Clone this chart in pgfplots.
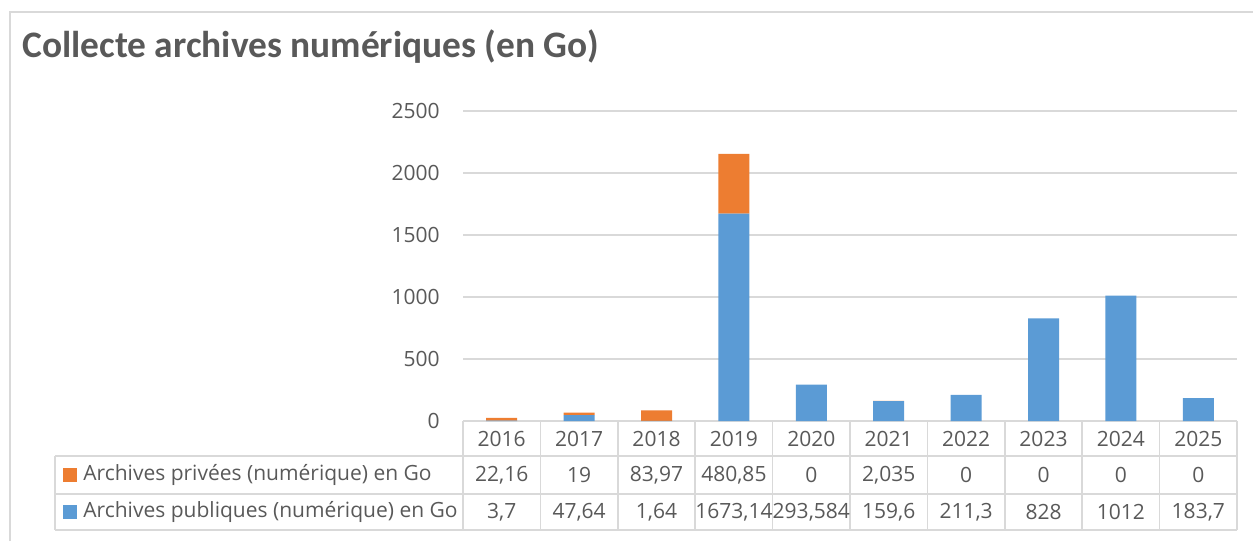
\documentclass[border=0pt]{standalone}
\usepackage{fontspec}
\setmainfont{Open Sans}
\newfontfamily\titlefont{Carlito}
\usepackage{pgfplots}
\pgfplotsset{compat=1.18}
\definecolor{txtgray}{HTML}{595959}
\definecolor{linegray}{HTML}{D9D9D9}
\definecolor{xlorange}{HTML}{ED7D31}
\definecolor{xlblue}{HTML}{5B9BD5}
\newcommand{\tabfont}{\fontsize{10.5}{12}\selectfont}

\begin{document}
\begin{tikzpicture}
% pixel frame: 1 px = 0.5pt, y downwards
\begin{scope}[x=0.5pt,y=-0.5pt]
\path[use as bounding box] (0,0) rectangle (1253,541);
\draw[linegray,line width=0.75pt] (10,541) -- (10,12) -- (1253,12);
\node[anchor=base west,inner sep=0pt,text=txtgray,font=\titlefont\bfseries\fontsize{18.7}{22}\selectfont]
  at (22,57) {Collecte archives numériques (en Go)};
\end{scope}

\begin{axis}[
  at={(231.5pt,-210.5pt)}, anchor=south west,
  scale only axis,
  width=387pt, height=155pt,
  xmin=-0.5, xmax=9.5,
  ymin=0, ymax=2500,
  ybar stacked,
  bar width=15.5pt,
  axis line style={draw=none},
  major tick length=0pt,
  ytick={0,500,1000,1500,2000,2500},
  ymajorgrids,
  grid style={draw=linegray,line width=0.75pt},
  xtick={0,...,9},
  xticklabels={2016,2017,2018,2019,2020,2021,2022,2023,2024,2025},
  xticklabel style={anchor=center,yshift=-8.75pt},
  yticklabel style={anchor=east,inner sep=0pt,xshift=-11.5pt},
  tick label style={font=\tabfont,text=txtgray},
  /pgf/number format/assume math mode=true,
  /pgf/number format/1000 sep={},
  clip=false,
]
\addplot[fill=xlblue,draw=none] coordinates {
  (0,3.7) (1,47.64) (2,1.64) (3,1673.14) (4,293.584)
  (5,159.6) (6,211.3) (7,828) (8,1012) (9,183.7)
};
\addplot[fill=xlorange,draw=none] coordinates {
  (0,22.16) (1,19) (2,83.97) (3,480.85) (4,0)
  (5,2.035) (6,0) (7,0) (8,0) (9,0)
};
\end{axis}

\begin{scope}[x=0.5pt,y=-0.5pt]
% data table grid
\draw[linegray,line width=0.75pt] (55,456) -- (1237,456);
\draw[linegray,line width=0.75pt] (55,494) -- (1237,494);
\draw[linegray,line width=0.75pt] (55,530) -- (1237,530);
\draw[linegray,line width=0.75pt] (55,456) -- (55,530);
\foreach \k in {0,...,10}
  \draw[linegray,line width=0.75pt] (463+77.4*\k,421) -- (463+77.4*\k,530);
% legend keys
\fill[xlorange] (63,468) rectangle (77,482);
\fill[xlblue] (63,505) rectangle (77,519);
\node[anchor=west,inner sep=0pt,text=txtgray,font=\tabfont] at (83,475) {Archives privées (numérique) en Go};
\node[anchor=west,inner sep=0pt,text=txtgray,font=\tabfont] at (83,512) {Archives publiques (numérique) en Go};
% values
\foreach \v [count=\i from 0] in {22{,}16,19,83{,}97,480{,}85,0,2{,}035,0,0,0,0}
  \node[text=txtgray,font=\tabfont,inner sep=0pt] at (463+77.4*\i+38.7,475) {\v};
\foreach \v [count=\i from 0] in {3{,}7,47{,}64,1{,}64,1673{,}14,293{,}584,159{,}6,211{,}3,828,1012,183{,}7}
  \node[text=txtgray,font=\tabfont,inner sep=0pt] at (463+77.4*\i+38.7,512) {\v};
\end{scope}
\end{tikzpicture}
\end{document}
